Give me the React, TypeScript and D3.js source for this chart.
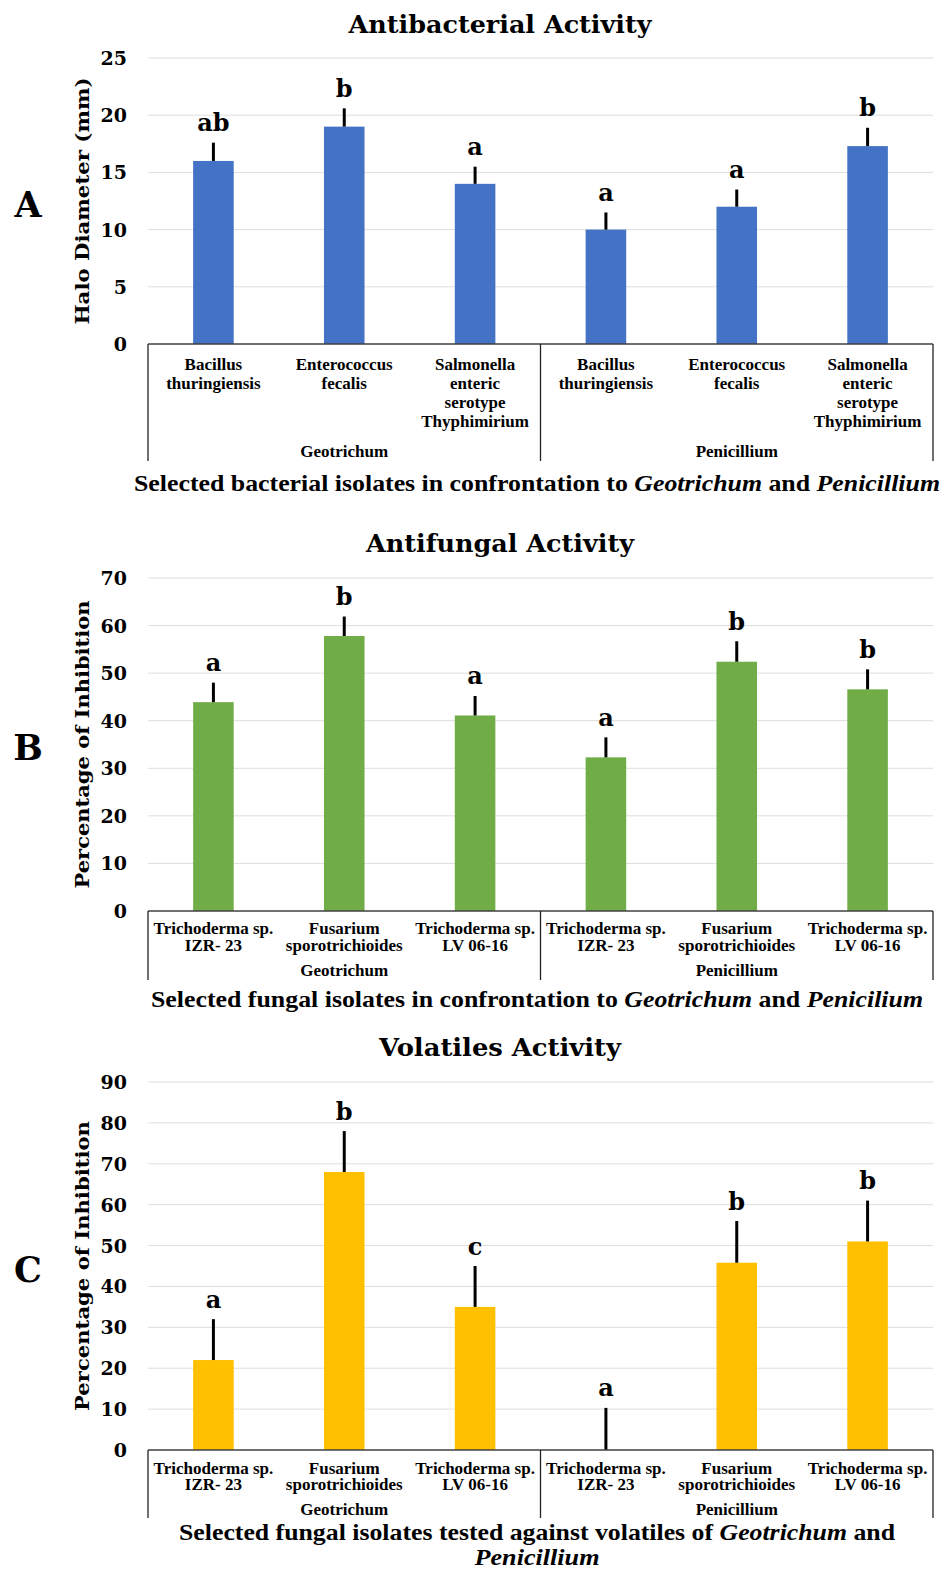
import React from "react";
import * as d3 from "d3";

// data
const groups = ["Geotrichum", "Penicillium"];
const bacteriaNames = [
  ["Bacillus", "thuringiensis"],
  ["Enterococcus", "fecalis"],
  ["Salmonella", "enteric", "serotype", "Thyphimirium"],
];
const fungiNames = [
  ["Trichoderma sp.", "IZR- 23"],
  ["Fusarium", "sporotrichioides"],
  ["Trichoderma sp.", "LV 06-16"],
];

const antibacterialMeans = [16, 19, 14, 10, 12, 17.3];
const antibacterialErrors = [1.6, 1.6, 1.5, 1.5, 1.5, 1.6];
const antibacterialLetters = ["ab", "b", "a", "a", "a", "b"];
const antibacterialTicks = [0, 5, 10, 15, 20, 25];

const antifungalMeans = [43.9, 57.8, 41.1, 32.3, 52.4, 46.6];
const antifungalErrors = [4.1, 4.1, 4.1, 4.2, 4.3, 4.2];
const antifungalLetters = ["a", "b", "a", "a", "b", "b"];
const antifungalTicks = [0, 10, 20, 30, 40, 50, 60, 70];

const volatilesMeans = [22, 68, 35, 0, 45.8, 51];
const volatilesErrors = [10, 10, 10, 10.3, 10.2, 10];
const volatilesLetters = ["a", "b", "c", "a", "b", "b"];
const volatilesTicks = [0, 10, 20, 30, 40, 50, 60, 70, 80, 90];

const SERIF = "'DejaVu Serif', Georgia, serif";
const TIMES = "'Liberation Serif', 'Times New Roman', serif";

type PanelProps = {
  letter: string;
  title: string;
  titleLen: number;
  yTitle: string;
  means: number[];
  errors: number[];
  letters: string[];
  ticks: number[];
  names: string[][];
  color: string;
  top: number;
  bottom: number;
  titleY: number;
  rowY: number;
  rowStep: number;
  groupY: number;
  boxBottom: number;
  xTitle: React.ReactNode;
  yTitleLen: number;
};

const left = 148;
const right = 933;

const Panel = (p: PanelProps) => {
  const idx = d3.range(p.means.length).map(String);
  const x = d3.scaleBand().domain(idx).range([left, right]).paddingInner(0.69).paddingOuter(0.345);
  const step = (right - left) / p.means.length;
  const g = d3.scaleBand().domain(groups).range([left, right]);
  const y = d3
    .scaleLinear()
    .domain([0, p.ticks[p.ticks.length - 1]])
    .range([p.bottom, p.top]);
  const labels = groups.flatMap(() => p.names);
  const midY = (p.top + p.bottom) / 2;

  return (
    <g>
      <text x={500} y={p.titleY} textAnchor="middle" dominantBaseline="central"
        fontFamily={SERIF} fontWeight="bold" fontSize={24} textLength={p.titleLen}
        lengthAdjust="spacingAndGlyphs">{p.title}</text>
      <text x={28} y={midY + 3} textAnchor="middle" dominantBaseline="central"
        fontFamily={SERIF} fontWeight="bold" fontSize={35}>{p.letter}</text>
      <text transform={`translate(82,${midY}) rotate(-90)`} textAnchor="middle" dominantBaseline="central"
        fontFamily={SERIF} fontWeight="bold" fontSize={19} textLength={p.yTitleLen}
        lengthAdjust="spacingAndGlyphs">{p.yTitle}</text>
      {p.ticks.map((t) => (
        <g key={t}>
          {t > 0 && <line x1={left} x2={right} y1={y(t)} y2={y(t)} stroke="#dedede" strokeWidth={1} />}
          <text x={127} y={y(t)} textAnchor="end" dominantBaseline="central"
            fontFamily={SERIF} fontWeight="bold" fontSize={19}>{t}</text>
        </g>
      ))}
      {p.means.map((m, i) => {
        const cx = (x(String(i)) as number) + x.bandwidth() / 2;
        const errTop = y(m + p.errors[i]);
        return (
          <g key={i}>
            <rect x={x(String(i))} width={x.bandwidth()} y={y(m)} height={p.bottom - y(m)} fill={p.color} />
            <line x1={cx} x2={cx} y1={y(m)} y2={errTop} stroke="#000" strokeWidth={3} />
            <text x={cx} y={errTop - 20} textAnchor="middle" dominantBaseline="central"
              fontFamily={SERIF} fontWeight="bold" fontSize={24}>{p.letters[i]}</text>
          </g>
        );
      })}
      <line x1={left} x2={right} y1={p.bottom} y2={p.bottom} stroke="#404040" strokeWidth={1.5} />
      {[left, (left + right) / 2, right].map((vx, i) => (
        <line key={i} x1={vx} x2={vx} y1={p.bottom} y2={p.boxBottom} stroke="#222" strokeWidth={1.3} />
      ))}
      {labels.map((lines, i) =>
        lines.map((s, j) => (
          <text key={`${i}-${j}`} x={left + step * (i + 0.5)} y={p.rowY + j * p.rowStep}
            textAnchor="middle" dominantBaseline="central" fontFamily={TIMES} fontWeight="bold" fontSize={17}>{s}</text>
        ))
      )}
      {groups.map((gr) => (
        <text key={gr} x={(g(gr) as number) + g.bandwidth() / 2} y={p.groupY} textAnchor="middle"
          dominantBaseline="central" fontFamily={TIMES} fontWeight="bold" fontSize={17}>{gr}</text>
      ))}
      {p.xTitle}
    </g>
  );
};

const xt = (y: number, parts: [string, boolean][], len?: number) => (
  <text x={537} y={y} textAnchor="middle" dominantBaseline="central" fontFamily={TIMES}
    fontWeight="bold" fontSize={24} textLength={len} lengthAdjust={len ? "spacingAndGlyphs" : undefined}>
    {parts.map(([s, it], i) => (
      <tspan key={i} fontStyle={it ? "italic" : "normal"}>{s}</tspan>
    ))}
  </text>
);

export default function App() {
  return (
    <svg width={943} height={1569} style={{ position: "absolute", left: 0, top: 0, background: "#fff" }}>
      <Panel letter="A" title="Antibacterial Activity" titleLen={303} yTitle="Halo Diameter (mm)" yTitleLen={247}
        means={antibacterialMeans} errors={antibacterialErrors} letters={antibacterialLetters}
        ticks={antibacterialTicks} names={bacteriaNames} color="#4472C4"
        top={58} bottom={344} titleY={24} rowY={364} rowStep={19} groupY={451} boxBottom={461}
        xTitle={xt(483, [["Selected bacterial isolates in confrontation to ", false], ["Geotrichum", true], [" and ", false], ["Penicillium", true]], 806)} />
      <Panel letter="B" title="Antifungal Activity" titleLen={268} yTitle="Percentage of Inhibition" yTitleLen={288}
        means={antifungalMeans} errors={antifungalErrors} letters={antifungalLetters}
        ticks={antifungalTicks} names={fungiNames} color="#70AD47"
        top={578} bottom={911} titleY={543} rowY={928} rowStep={17} groupY={970} boxBottom={980}
        xTitle={xt(999, [["Selected fungal isolates in confrontation to ", false], ["Geotrichum", true], [" and ", false], ["Penicilium", true]], 772)} />
      <Panel letter="C" title="Volatiles Activity" titleLen={242} yTitle="Percentage of Inhibition" yTitleLen={290}
        means={volatilesMeans} errors={volatilesErrors} letters={volatilesLetters}
        ticks={volatilesTicks} names={fungiNames} color="#FFC000"
        top={1082} bottom={1450} titleY={1047} rowY={1468} rowStep={16} groupY={1509} boxBottom={1518}
        xTitle={
          <g>
            {xt(1532, [["Selected fungal isolates tested against volatiles of ", false], ["Geotrichum", true], [" and", false]], 716)}
            {xt(1557, [["Penicillium", true]], 125)}
          </g>
        } />
    </svg>
  );
}
